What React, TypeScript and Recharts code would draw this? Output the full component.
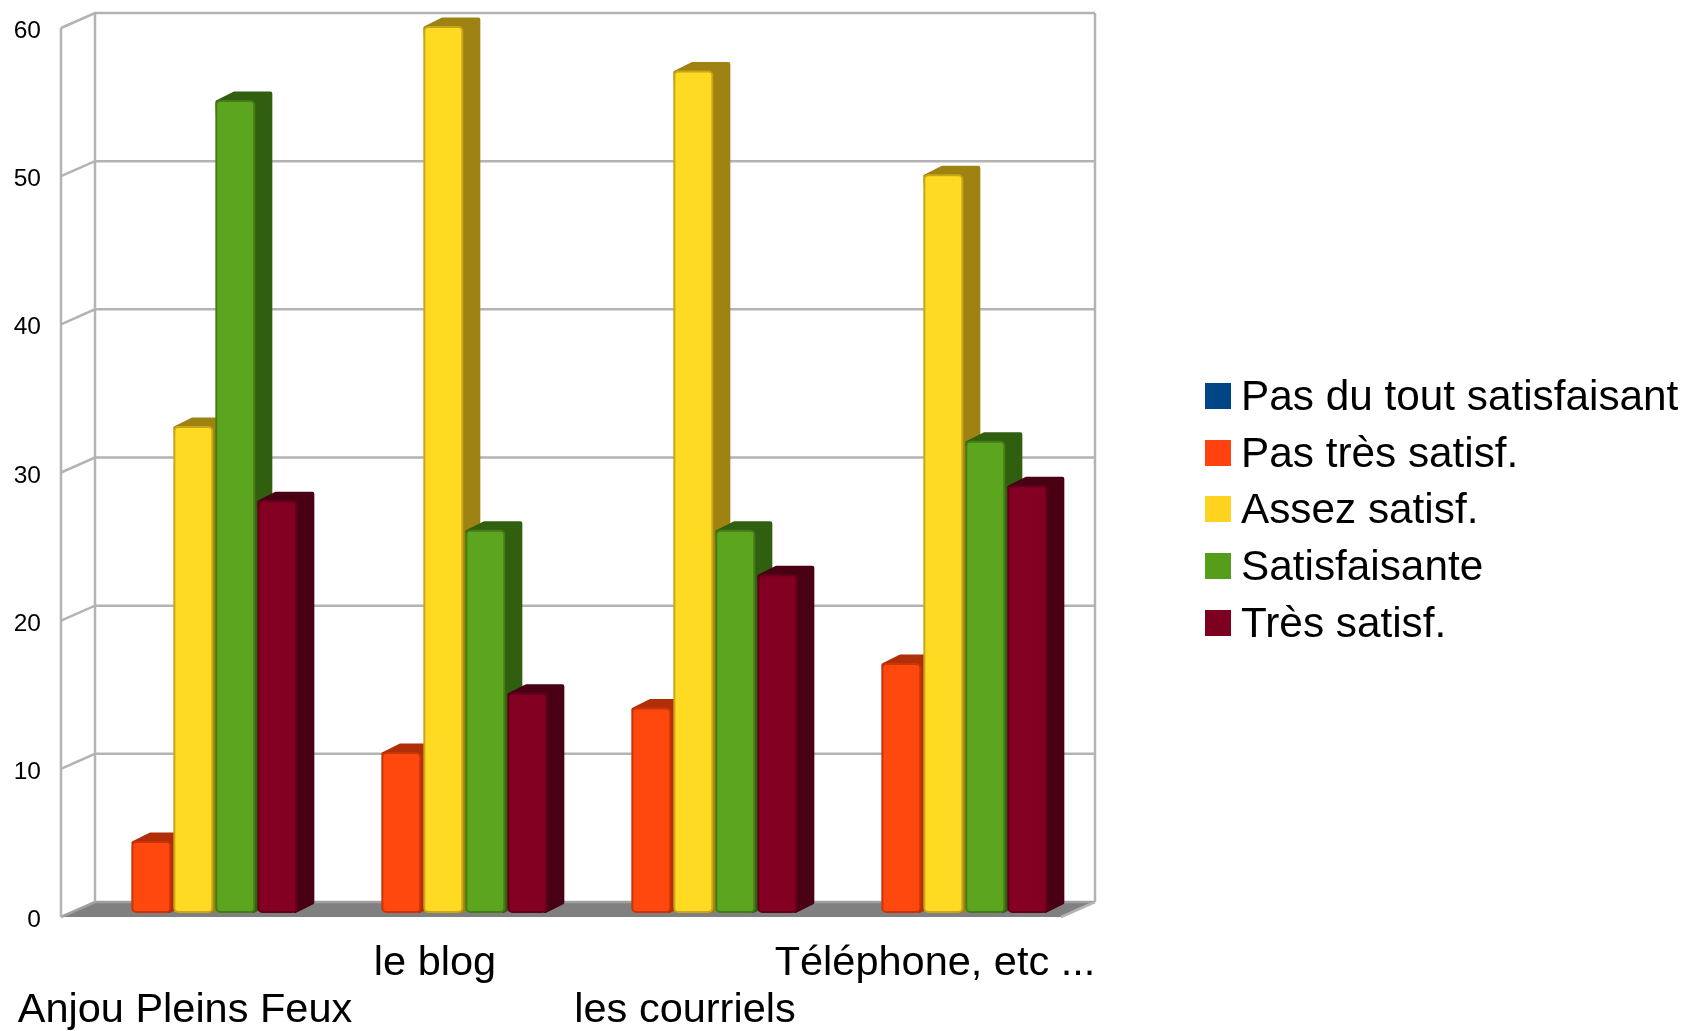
import { BarChart, Bar, XAxis, YAxis, CartesianGrid, Legend } from "recharts";

const categories = ["Anjou Pleins Feux", "le blog", "les courriels", "Téléphone, etc ..."];
const pasDuTout = [0, 0, 0, 0];
const pasTres = [5, 11, 14, 17];
const assez = [33, 60, 57, 50];
const satisfaisante = [55, 26, 26, 32];
const tres = [28, 15, 23, 29];
const yTicks = [0, 10, 20, 30, 40, 50, 60];

const chartData = categories.map((name, i) => ({
  name,
  pasDuTout: pasDuTout[i],
  pasTres: pasTres[i],
  assez: assez[i],
  satisfaisante: satisfaisante[i],
  tres: tres[i],
}));

const series = [
  { key: "pasDuTout", label: "Pas du tout satisfaisant", color: "#004586", face: "#004586", side: "#002a52", edge: "#00386c" },
  { key: "pasTres", label: "Pas très satisf.", color: "#ff420e", face: "#ff480e", side: "#b02e08", edge: "#c93408" },
  { key: "assez", label: "Assez satisf.", color: "#ffd320", face: "#ffda22", side: "#9e8212", edge: "#c9a618" },
  { key: "satisfaisante", label: "Satisfaisante", color: "#579d1c", face: "#5ca51e", side: "#315f10", edge: "#447c16" },
  { key: "tres", label: "Très satisf.", color: "#7e0021", face: "#830023", side: "#4a0014", edge: "#62001a" },
];

const FONT = "'Liberation Sans', Arial, sans-serif";
const WALL = "#b3b3b3";
const PLOT_TOP = 24;
const PLOT_BOTTOM = 913;

// depth offsets of the fake 3d box, relative to the plane the bars stand in
const FRONT_DX = -9;
const FRONT_DY = 4;
const BACK_DX = 25;
const BACK_DY = -11;
const BAR_DX = 17;
const BAR_DY = -8.5;
// the bars' rounded top sits a little under the value line in the reference
const TOP_INSET = 2;

const GridLine = (props: any) => {
  const { x1, x2, y1 } = props;
  const fx = x1 + FRONT_DX;
  const bx = x1 + BACK_DX;
  const ex = x2 + BACK_DX;
  const isFloor = Math.abs(y1 - PLOT_BOTTOM) < 1;
  const isTop = Math.abs(y1 - PLOT_TOP) < 1;
  const fy = y1 + FRONT_DY;
  const by = y1 + BACK_DY;
  return (
    <g>
      {isFloor && (
        <polygon
          points={`${fx},${fy} ${bx},${by} ${ex},${by} ${x2 + FRONT_DX},${fy}`}
          fill="#808080"
        />
      )}
      {isTop && (
        <g stroke={WALL} strokeWidth={2.5} fill="none">
          <line x1={fx} y1={fy} x2={fx} y2={PLOT_BOTTOM + FRONT_DY} />
          <line x1={bx} y1={by} x2={bx} y2={PLOT_BOTTOM + BACK_DY} />
          <line x1={ex} y1={by} x2={ex} y2={PLOT_BOTTOM + BACK_DY} />
        </g>
      )}
      <polyline
        points={`${fx},${fy} ${bx},${by} ${ex},${by}`}
        fill="none"
        stroke={isFloor ? "#a0a0a0" : WALL}
        strokeWidth={2.5}
      />
      {isFloor && <line x1={ex} y1={by} x2={x2 + FRONT_DX} y2={fy} stroke={WALL} strokeWidth={2.5} />}
    </g>
  );
};

const Bar3D = (props: any) => {
  const { x, y, width, height, face, side, edge } = props;
  if (!height || height <= 0) return null;
  const left = x - 1.5;
  const top = y + TOP_INSET;
  const right = left + width - 2;
  const bottom = y + height;
  const back = [
    [left + 2, top + 2],
    [left + 2 + BAR_DX, top + 2 + BAR_DY],
    [right - 2 + BAR_DX, top + 2 + BAR_DY],
    [right - 2 + BAR_DX, bottom - 2 + BAR_DY],
    [right - 2, bottom - 2],
  ]
    .map((p) => p.join(","))
    .join(" ");
  return (
    <g>
      <polygon points={back} fill={side} stroke={side} strokeWidth={4} strokeLinejoin="round" />
      <rect
        x={left + 1}
        y={top + 1}
        width={right - left - 2}
        height={bottom - top - 2}
        rx={4}
        fill={face}
        stroke={edge}
        strokeWidth={2}
      />
    </g>
  );
};

const YTick = (props: any) => {
  const { y, payload } = props;
  return (
    <text x={41} y={y + FRONT_DY + 10} textAnchor="end" fontFamily={FONT} fontSize={24.5} fill="#000">
      {payload.value}
    </text>
  );
};

const XTick = (props: any) => {
  const { x, payload, index } = props;
  const baseline = index % 2 === 0 ? 1022 : 975;
  return (
    <text x={x + FRONT_DX - 1} y={baseline} textAnchor="middle" fontFamily={FONT} fontSize={41.5} fill="#000">
      {payload.value}
    </text>
  );
};

const LegendBox = (props: any) => {
  const { payload } = props;
  return (
    <div style={{ fontFamily: FONT, fontSize: 42.3, color: "#000" }}>
      {(payload || []).map((entry: any) => (
        <div
          key={entry.value}
          style={{ display: "flex", alignItems: "center", height: 56.6, whiteSpace: "nowrap" }}
        >
          <span style={{ width: 26, height: 26, background: entry.color, marginRight: 10, flex: "none" }} />
          <span>{entry.value}</span>
        </div>
      ))}
    </div>
  );
};

const App = () => {
  return (
    <div
      style={{
        position: "absolute",
        left: 0,
        top: 0,
        width: 1685,
        height: 1031,
        background: "#fff",
        filter: "blur(0.5px)",
      }}
    >
      <BarChart
        width={1685}
        height={1031}
        data={chartData}
        barGap={0}
        barCategoryGap="8.333%"
        margin={{ top: PLOT_TOP, right: 615, bottom: 0, left: 0 }}
      >
        <CartesianGrid vertical={false} horizontal={(p: any) => <GridLine key={p.key} {...p} />} />
        <XAxis
          dataKey="name"
          axisLine={false}
          tickLine={false}
          interval={0}
          height={118}
          tick={(p: any) => <XTick {...p} />}
        />
        <YAxis
          width={70}
          domain={[0, 60]}
          ticks={yTicks}
          axisLine={false}
          tickLine={false}
          tick={(p: any) => <YTick {...p} />}
        />
        <Legend
          layout="vertical"
          align="center"
          verticalAlign="middle"
          itemSorter={null}
          content={<LegendBox />}
          wrapperStyle={{ position: "absolute", left: 1205, top: 368, width: 480, height: 283 }}
        />
        {series.map((s) => (
          <Bar
            key={s.key}
            dataKey={s.key}
            name={s.label}
            fill={s.color}
            isAnimationActive={false}
            shape={(p: any) => <Bar3D {...p} face={s.face} side={s.side} edge={s.edge} />}
          />
        ))}
      </BarChart>
    </div>
  );
};

export default App;
